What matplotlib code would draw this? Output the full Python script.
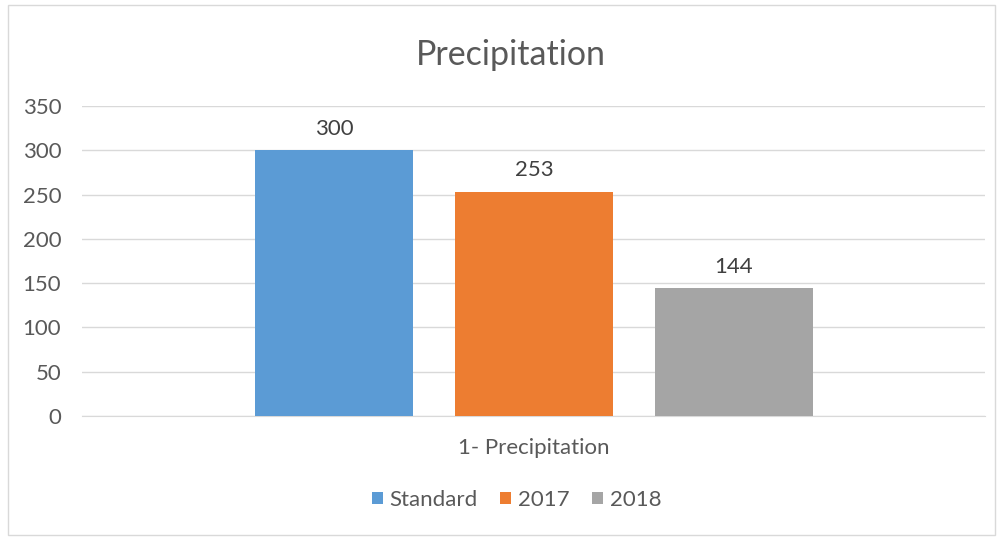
import matplotlib.pyplot as plt
from matplotlib.patches import Rectangle

plt.rcParams['font.family'] = ['Lato', 'DejaVu Sans']

# data
series = ['Standard', '2017', '2018']
values = [300, 253, 144]
colors = ['#5B9BD5', '#ED7D31', '#A5A5A5']
category = '1- Precipitation'
yticks = [0, 50, 100, 150, 200, 250, 300, 350]

fig = plt.figure(figsize=(10.03, 5.37), dpi=100)
ax = fig.add_axes([0.0818, 0.2253, 0.900, 0.5773])

positions = [-1, 0, 1]
bars = []
for pos, val, col, name in zip(positions, values, colors, series):
    b = ax.bar(pos, val, width=0.79, color=col, label=name, zorder=3)
    bars.append(b)
    ax.text(pos, val + 13, str(val), ha='center', va='bottom',
            fontsize=16, color='#404040')

ax.set_xlim(-2.26, 2.255)
ax.set_ylim(0, 350)
ax.set_yticks(yticks)
ax.set_yticklabels([str(t) for t in yticks], fontsize=16, color='#595959')
ax.tick_params(axis='y', length=0, pad=15)
ax.set_xticks([0])
ax.set_xticklabels([category], fontsize=16, color='#595959')
ax.tick_params(axis='x', length=0, pad=16)
ax.grid(axis='y', color='#D9D9D9', linewidth=1, zorder=0)
for s in ['top', 'right', 'left']:
    ax.spines[s].set_visible(False)
ax.spines['bottom'].set_color('#D9D9D9')

fig.text(0.509, 0.898, 'Precipitation', ha='center', va='center',
         fontsize=24.5, color='#595959')

fig.legend(handles=[b[0] for b in bars], labels=series, loc='center',
           bbox_to_anchor=(0.515, 0.069), ncol=3, frameon=False,
           fontsize=16, handlelength=0.5, handleheight=0.5,
           handletextpad=0.3, columnspacing=1.0, labelcolor='#595959')

fig.patches.append(Rectangle((0.008, 0.004), 0.984, 0.987, transform=fig.transFigure,
                             fill=False, edgecolor='#D9D9D9', linewidth=1))

fig.savefig('out.png', dpi=100)
